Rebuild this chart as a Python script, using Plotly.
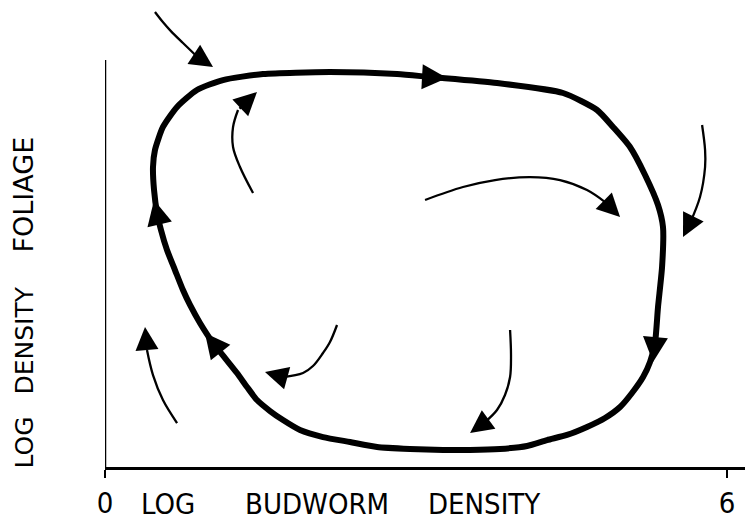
import plotly.graph_objects as go

# limit cycle (clockwise), log budworm density vs log foliage density
ciclo_x = [0.502, 0.473, 0.463, 0.482, 0.559, 0.695, 0.887, 1.138, 1.524, 2.170,
           2.817, 3.135, 3.781, 4.418, 4.746, 4.900, 5.064, 5.209, 5.334, 5.382,
           5.373, 5.334, 5.305, 5.257, 5.190, 5.083, 4.968, 4.823, 4.649, 4.456,
           4.264, 4.071, 3.810, 3.521, 3.260, 2.942, 2.624, 2.363, 2.103, 1.881,
           1.717, 1.592, 1.466, 1.370, 1.273, 1.158, 1.042, 0.916, 0.820, 0.752,
           0.675, 0.598, 0.540, 0.502]
ciclo_y = [2.450, 2.672, 2.894, 3.058, 3.280, 3.473, 3.637, 3.733, 3.791, 3.810,
           3.791, 3.762, 3.704, 3.608, 3.444, 3.280, 3.087, 2.817, 2.527, 2.315,
           1.929, 1.543, 1.196, 1.013, 0.868, 0.714, 0.579, 0.473, 0.386, 0.309,
           0.260, 0.203, 0.174, 0.164, 0.164, 0.174, 0.193, 0.241, 0.289, 0.357,
           0.453, 0.540, 0.646, 0.772, 0.907, 1.051, 1.196, 1.389, 1.563, 1.707,
           1.900, 2.093, 2.286, 2.450]

# direction marks on the cycle: (tail x, tail y, tip x, tip y)
flechas_ciclo = [
    (0.540, 2.286, 0.473, 2.576),
    (2.942, 3.772, 3.299, 3.752),
    (5.325, 1.418, 5.286, 1.013),
    (1.158, 1.051, 0.964, 1.293),
]

# trajectories off the cycle (last point = arrow tip)
trayectorias = [
    ([0.482, 0.560, 0.640, 0.752, 0.887, 1.042], [4.389, 4.290, 4.200, 4.090, 3.960, 3.858]),
    ([1.428, 1.302, 1.235, 1.235, 1.283, 1.466], [2.643, 2.894, 3.087, 3.280, 3.444, 3.617]),
    ([3.087, 3.453, 3.762, 4.100, 4.389, 4.649, 4.823, 4.968], [2.576, 2.701, 2.768, 2.797, 2.768, 2.672, 2.556, 2.412]),
    ([5.759, 5.788, 5.788, 5.739, 5.643, 5.575], [3.299, 3.058, 2.894, 2.604, 2.354, 2.219]),
    ([3.907, 3.916, 3.907, 3.858, 3.781, 3.666, 3.521], [1.322, 1.080, 0.868, 0.695, 0.550, 0.434, 0.328]),
    ([2.238, 2.170, 2.103, 2.006, 1.910, 1.717, 1.543], [1.370, 1.206, 1.100, 0.974, 0.907, 0.868, 0.916]),
    ([0.695, 0.559, 0.463, 0.405, 0.386], [0.424, 0.646, 0.887, 1.129, 1.350]),
]

fuente = "DejaVu Sans Condensed, DejaVu Sans"

fig = go.Figure()

fig.add_trace(go.Scatter(x=ciclo_x, y=ciclo_y, mode='lines',
                         line=dict(color='black', width=6, shape='spline', smoothing=0.6),
                         hoverinfo='skip'))

anotaciones = []
for tx, ty, hx, hy in flechas_ciclo:
    anotaciones.append(dict(x=hx, y=hy, ax=tx, ay=ty, xref='x', yref='y', axref='x', ayref='y',
                            text='', showarrow=True, arrowhead=2, arrowsize=2.5, arrowwidth=2,
                            arrowcolor='black', standoff=0))

for xs, ys in trayectorias:
    fig.add_trace(go.Scatter(x=xs[:-1], y=ys[:-1], mode='lines',
                             line=dict(color='black', width=2.3, shape='spline'),
                             hoverinfo='skip'))
    anotaciones.append(dict(x=xs[-1], y=ys[-1], ax=xs[-2], ay=ys[-2], xref='x', yref='y',
                            axref='x', ayref='y', text='', showarrow=True, arrowhead=2,
                            arrowsize=2.0, arrowwidth=2.3, arrowcolor='black', standoff=0))

# axis titles (paper coords, the axis has no room for them)
for texto, xc in [("LOG", 0.0977), ("BUDWORM", 0.3305), ("DENSITY", 0.5922)]:
    anotaciones.append(dict(x=xc, y=-0.079, xref='paper', yref='paper', text=texto,
                            showarrow=False, font=dict(family=fuente, size=29, color='black'),
                            xanchor='center', yanchor='middle'))
for texto, yc, tam in [("LOG", 0.0535, 25), ("DENSITY", 0.2719, 25), ("FOLIAGE", 0.5846, 27)]:
    anotaciones.append(dict(x=-0.1258, y=yc, xref='paper', yref='paper', text=texto,
                            showarrow=False, textangle=-90,
                            font=dict(family="DejaVu Sans", size=tam, color='black'),
                            xanchor='center', yanchor='middle'))

fig.update_layout(
    width=748, height=526,
    margin=dict(l=105, r=3, t=0, b=59),
    paper_bgcolor='white', plot_bgcolor='white',
    showlegend=False,
    annotations=anotaciones,
    shapes=[dict(type='line', xref='x', yref='y', x0=0, x1=0, y0=-0.1, y1=3.926,
                 line=dict(color='black', width=2.5))],
    xaxis=dict(range=[0, 6.173], showgrid=False, zeroline=False, showline=True,
               linecolor='black', linewidth=2.5, ticks='outside', ticklen=8, tickwidth=2,
               tickcolor='black', tickvals=[0, 6], ticktext=['0', '6'],
               tickfont=dict(family=fuente, size=29, color='black')),
    yaxis=dict(range=[0, 4.505], showgrid=False, zeroline=False, showline=False,
               showticklabels=False, ticks=''),
)

fig.write_html("out.html", config={'displayModeBar': False},
               post_script="document.body.style.margin='0';")
